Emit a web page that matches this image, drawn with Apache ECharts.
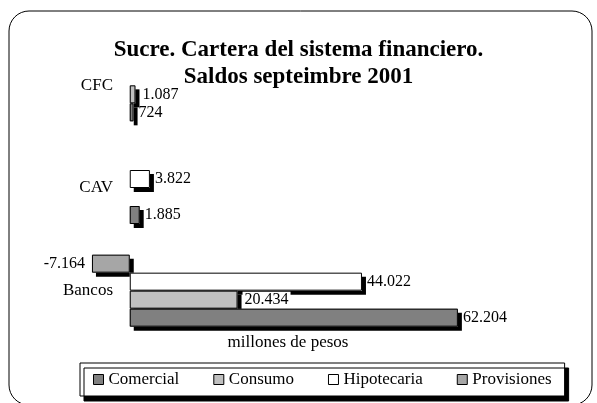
<!DOCTYPE html>
<html>
<head>
<meta charset="utf-8">
<script src="https://cdn.jsdelivr.net/npm/echarts@6/dist/echarts.min.js"></script>
<style>
  html, body { margin: 0; padding: 0; background: #fff; }
</style>
</head>
<body>
<div id="chart" style="width: 597px; height: 403px"></div>
<script>
// categorias de abajo hacia arriba (como en Excel)
var categorias = ['Bancos', 'CAV', 'CFC']
var comercial = [62204, 1885, 724]
var consumo = [20434, '-', 1087]
var hipotecaria = [44022, 3822, '-']
var provisiones = [-7164, '-', '-']
var leyenda = ['Comercial', 'Consumo', 'Hipotecaria', 'Provisiones']

var serif = 'Liberation Serif'

// 62204 -> "62.204"
function miles(v) {
    var n = Math.abs(v)
    var s = String(n).replace(/\B(?=(\d{3})+(?!\d))/g, '.')
    return (v < 0 ? '-' : '') + s
}

// relleno con sombra (ejes 0)
function relleno(nombre, datos, color) {
    return {
        name: nombre,
        type: 'bar',
        xAxisIndex: 0,
        yAxisIndex: 0,
        data: datos,
        barWidth: 18,
        barGap: '0%',
        itemStyle: {
            color: color,
            borderWidth: 0,
            shadowColor: '#000',
            shadowBlur: 0,
            shadowOffsetX: 4,
            shadowOffsetY: 4,
        },
        animation: false,
        silent: true,
    }
}

// borde negro + etiquetas encima (ejes 1, misma escala)
function borde(nombre, datos, extraLabel) {
    var label = {
        show: true,
        position: 'right',
        distance: 5,
        color: '#000',
        fontFamily: serif,
        fontSize: 16,
        formatter: function(p) {
            return miles(p.value)
        },
    }
    if (extraLabel) Object.assign(label, extraLabel)
    return {
        name: nombre + '_borde',
        type: 'bar',
        xAxisIndex: 1,
        yAxisIndex: 1,
        data: datos,
        barWidth: 18,
        barGap: '0%',
        itemStyle: {
            color: 'rgba(0,0,0,0)',
            borderColor: '#000',
            borderWidth: 1,
        },
        label: label,
        animation: false,
        silent: true,
    }
}

function ejeX(nombre) {
    return {
        type: 'value',
        min: -10000,
        max: 70000,
        name: nombre,
        nameLocation: 'middle',
        nameGap: -8,
        nameTextStyle: { fontFamily: serif, fontSize: 17, color: '#000' },
        axisLine: { show: false },
        axisTick: { show: false },
        axisLabel: { show: false },
        splitLine: { show: false },
    }
}

function ejeY(mostrar) {
    return {
        type: 'category',
        data: categorias,
        axisLine: { show: false, onZero: false },
        axisTick: { show: false },
        axisLabel: {
            show: mostrar,
            // etiquetas pegadas al cero (x=130), el eje queda en x=77
            margin: -36,
            fontFamily: serif,
            fontSize: 17,
            color: '#000',
        },
        splitLine: { show: false },
    }
}

var myChart = echarts.init(document.getElementById('chart'))
var option = {
    backgroundColor: '#fff',
    graphic: [
        {
            type: 'rect',
            shape: { x: 9, y: 11, width: 583, height: 394, r: 20 },
            style: { fill: 'none', stroke: '#000', lineWidth: 1 },
            silent: true,
        },
    ],
    title: {
        text: 'Sucre. Cartera del sistema financiero.\nSaldos septeimbre 2001',
        left: 'center',
        top: 32,
        textStyle: {
            fontFamily: serif,
            fontWeight: 'bold',
            fontSize: 23,
            lineHeight: 27,
            color: '#000',
        },
    },
    legend: {
        data: leyenda,
        left: 80,
        top: 363,
        icon: 'rect',
        itemWidth: 10,
        itemHeight: 10,
        itemGap: 34,
        padding: [8, 13],
        backgroundColor: '#fff',
        borderColor: '#000',
        borderWidth: 1,
        borderRadius: 0,
        shadowColor: '#000',
        shadowBlur: 0,
        shadowOffsetX: 4,
        shadowOffsetY: 5,
        itemStyle: {
            borderColor: '#000',
            borderWidth: 1,
            shadowColor: 'rgba(0,0,0,0)',
            shadowOffsetX: 0,
            shadowOffsetY: 0,
        },
        textStyle: { fontFamily: serif, fontSize: 17, color: '#000' },
    },
    grid: {
        left: 77,
        right: 98,
        top: 34,
        bottom: 61,
        containLabel: false,
    },
    xAxis: [ejeX('millones de pesos'), ejeX('')],
    yAxis: [ejeY(true), ejeY(false)],
    // la primera serie queda arriba en cada grupo
    series: [
        relleno('Provisiones', provisiones, '#a6a6a6'),
        relleno('Hipotecaria', hipotecaria, '#ffffff'),
        relleno('Consumo', consumo, '#c0c0c0'),
        relleno('Comercial', comercial, '#808080'),
        borde('Provisiones', provisiones, { position: 'left', distance: 7 }),
        borde('Hipotecaria', hipotecaria),
        borde('Consumo', consumo, { backgroundColor: '#fff', padding: [0, 2] }),
        borde('Comercial', comercial),
    ],
}
myChart.setOption(option)
</script>
</body>
</html>
